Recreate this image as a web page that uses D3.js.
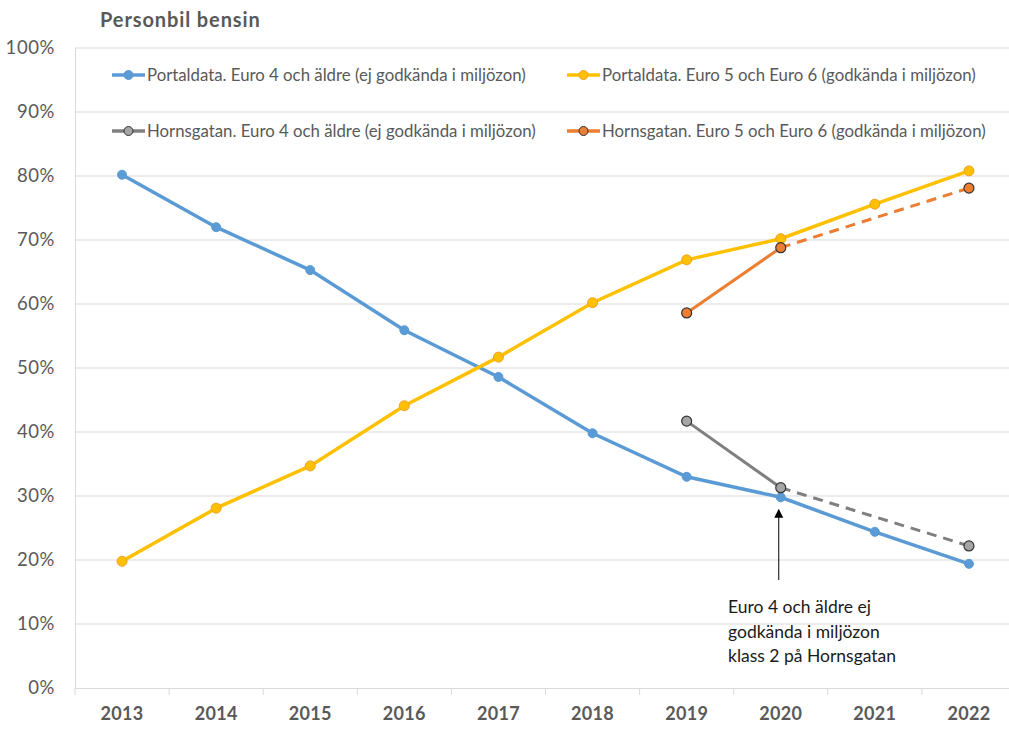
<!DOCTYPE html>
<html>
<head>
<meta charset="utf-8">
<script src="https://cdn.jsdelivr.net/npm/d3@7"></script>
<style>
  html, body { margin: 0; padding: 0; background: #fff; }
  svg { display: block; font-family: Lato, "Open Sans", sans-serif; }
</style>
</head>
<body>
<svg id="chart" width="1009" height="729"></svg>
<script>
// ---- data ----
const years = [2013, 2014, 2015, 2016, 2017, 2018, 2019, 2020, 2021, 2022];
const portalOld = [80.2, 72.0, 65.3, 55.9, 48.6, 39.8, 33.0, 29.8, 24.4, 19.4];
const portalNew = [19.8, 28.1, 34.7, 44.1, 51.7, 60.2, 66.9, 70.2, 75.6, 80.8];
const hornsYears = [2019, 2020, 2022];
const hornsOld = [41.7, 31.3, 22.2];
const hornsNew = [58.6, 68.8, 78.1];
const yTicks = [0, 10, 20, 30, 40, 50, 60, 70, 80, 90, 100];
const legendLabels = [
  "Portaldata. Euro 4 och äldre (ej godkända i miljözon)",
  "Portaldata. Euro 5 och Euro 6 (godkända i miljözon)",
  "Hornsgatan. Euro 4 och äldre (ej godkända i miljözon)",
  "Hornsgatan. Euro 5 och Euro 6 (godkända i miljözon)"
];
const titleText = "Personbil bensin";
const noteLines = ["Euro 4 och äldre ej", "godkända i miljözon", "klass 2 på Hornsgatan"];
const noteYear = 2020;

// ---- setup ----
const svg = d3.select("#chart");
const pLeft = 75, pRight = 1016, pTop = 48, pBottom = 688;
const x = d3.scaleBand().domain(years).range([pLeft, pRight]);
const xc = d => x(d) + x.bandwidth() / 2;
const y = d3.scaleLinear().domain([0, 100]).range([pBottom, pTop]);
const textCol = "#595959", gridCol = "#D9D9D9";

svg.append("defs").append("marker")
  .attr("id", "arr").attr("viewBox", "0 0 10 10").attr("refX", 5).attr("refY", 5)
  .attr("markerWidth", 9).attr("markerHeight", 12).attr("orient", "auto")
  .attr("markerUnits", "userSpaceOnUse")
  .append("path").attr("d", "M0,0 L10,5 L0,10 Z").attr("fill", "#000");

// gridlines
svg.append("g").selectAll("line").data(yTicks.filter(t => t > 0)).join("line")
  .attr("x1", pLeft).attr("x2", pRight).attr("y1", d => y(d)).attr("y2", d => y(d))
  .attr("stroke", gridCol).attr("stroke-width", 1);

// y axis
const yAxis = svg.append("g").attr("transform", `translate(${pLeft},0)`)
  .call(d3.axisLeft(y).tickValues(yTicks).tickFormat(d => d + "%").tickSize(0).tickPadding(20));
yAxis.select(".domain").attr("stroke", gridCol);
yAxis.selectAll("text").attr("fill", textCol).attr("font-size", 18.5).attr("font-family", "Lato, sans-serif")
  .attr("letter-spacing", 0.6);

// x axis
const xAxis = svg.append("g").attr("transform", `translate(0,${pBottom})`)
  .call(d3.axisBottom(x).tickSize(0).tickPadding(19));
xAxis.select(".domain").attr("stroke", gridCol);
xAxis.selectAll("text").attr("fill", textCol).attr("font-size", 18).attr("font-weight", "bold")
  .attr("font-family", "Lato, sans-serif").attr("letter-spacing", 0.3);
svg.append("g").selectAll("line").data(years).join("line")
  .attr("x1", d => x(d)).attr("x2", d => x(d)).attr("y1", pBottom).attr("y2", pBottom + 7)
  .attr("stroke", gridCol);

// title
svg.append("text").attr("x", 100).attr("y", 27).text(titleText)
  .attr("font-size", 20).attr("font-weight", "bold").attr("fill", textCol).attr("letter-spacing", 0.9);

const line = d3.line().x(d => xc(d[0])).y(d => y(d[1]));

// Portaldata lines
const pOld = years.map((yr, i) => [yr, portalOld[i]]);
const pNew = years.map((yr, i) => [yr, portalNew[i]]);
svg.append("path").attr("d", line(pOld)).attr("fill", "none").attr("stroke", "#5B9BD5").attr("stroke-width", 3.5);
svg.append("path").attr("d", line(pNew)).attr("fill", "none").attr("stroke", "#FFC000").attr("stroke-width", 3.5);

// Hornsgatan lines
const hOld = hornsYears.map((yr, i) => [yr, hornsOld[i]]);
const hNew = hornsYears.map((yr, i) => [yr, hornsNew[i]]);
svg.append("path").attr("d", line(hOld.slice(0, 2))).attr("fill", "none").attr("stroke", "#7F7F7F").attr("stroke-width", 3);
svg.append("path").attr("d", line(hOld.slice(1))).attr("fill", "none").attr("stroke", "#7F7F7F").attr("stroke-width", 3).attr("stroke-dasharray", "10,7");
svg.append("path").attr("d", line(hNew.slice(0, 2))).attr("fill", "none").attr("stroke", "#ED7D31").attr("stroke-width", 3);
svg.append("path").attr("d", line(hNew.slice(1))).attr("fill", "none").attr("stroke", "#ED7D31").attr("stroke-width", 3).attr("stroke-dasharray", "10,7");

// markers
function markers(data, fill, stroke, r, sw) {
  svg.append("g").selectAll("circle").data(data).join("circle")
    .attr("cx", d => xc(d[0])).attr("cy", d => y(d[1])).attr("r", r)
    .attr("fill", fill).attr("stroke", stroke).attr("stroke-width", sw);
}
markers(pOld, "#5B9BD5", "#5B9BD5", 4.5, 1);
markers(pNew, "#FFC000", "#F0A030", 5, 1);
markers(hOld, "#A5A5A5", "#333", 5, 1.2);
markers(hNew, "#ED7D31", "#333", 5, 1.2);

// legend
const legendItems = [
  { label: legendLabels[0], line: "#5B9BD5", fill: "#5B9BD5", stroke: "#5B9BD5", lx: 112, ly: 75 },
  { label: legendLabels[1], line: "#FFC000", fill: "#FFC000", stroke: "#F0A030", lx: 567, ly: 75 },
  { label: legendLabels[2], line: "#7F7F7F", fill: "#A5A5A5", stroke: "#333", lx: 112, ly: 131 },
  { label: legendLabels[3], line: "#ED7D31", fill: "#ED7D31", stroke: "#333", lx: 567, ly: 131 }
];
const lg = svg.append("g").selectAll("g").data(legendItems).join("g")
  .attr("transform", d => `translate(${d.lx},${d.ly})`);
lg.append("line").attr("x1", 0).attr("x2", 33).attr("stroke", d => d.line).attr("stroke-width", 3.5);
lg.append("circle").attr("cx", 16.5).attr("r", 4.5).attr("fill", d => d.fill).attr("stroke", d => d.stroke);
lg.append("text").attr("x", 35).attr("dy", "0.35em").text(d => d.label)
  .attr("font-size", 16.8).attr("fill", textCol);

// annotation
const ax = xc(noteYear);
svg.append("line").attr("x1", ax - 2).attr("x2", ax - 2).attr("y1", 580).attr("y2", y(portalOld[years.indexOf(noteYear)]) + 16)
  .attr("stroke", "#000").attr("stroke-width", 1).attr("marker-end", "url(#arr)");
svg.append("text").attr("x", 728).attr("y", 613).attr("font-size", 17.5).attr("fill", "#1a1a1a")
  .selectAll("tspan").data(noteLines).join("tspan")
  .attr("x", 728).attr("dy", (d, i) => i === 0 ? 0 : 24.5).text(d => d);
</script>
</body>
</html>
